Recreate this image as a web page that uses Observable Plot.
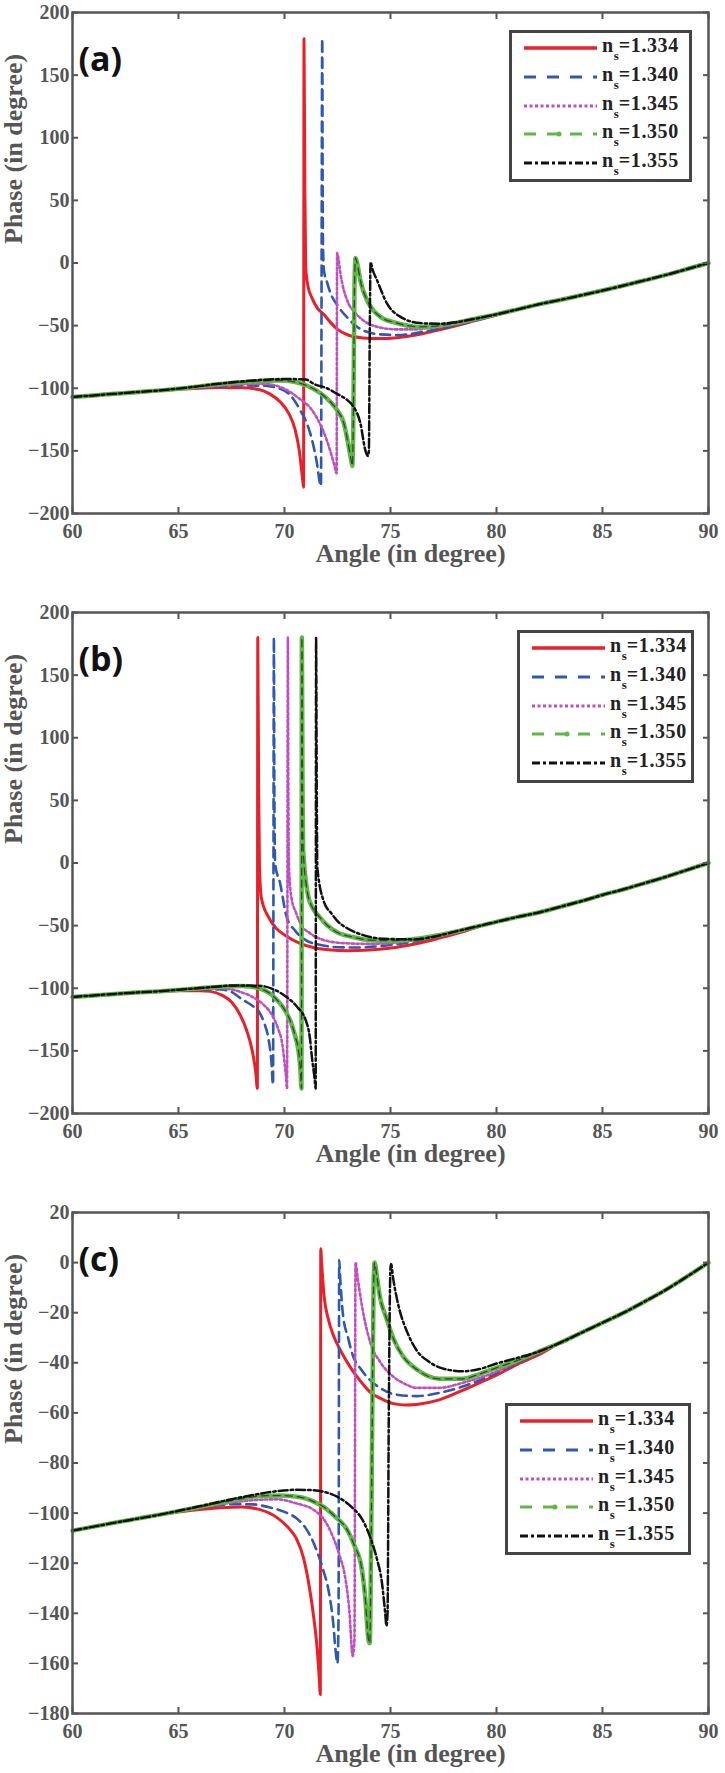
<!DOCTYPE html>
<html><head><meta charset="utf-8">
<script src="https://cdn.jsdelivr.net/npm/d3@7"></script>
<script src="https://cdn.jsdelivr.net/npm/@observablehq/plot@0.6"></script>
<style>
html,body{margin:0;padding:0;background:#fff;}
body{width:725px;height:1773px;overflow:hidden;}
.panel{position:relative;width:725px;height:600px;overflow:hidden;}
.panel svg.plot{display:block;}
.legend{position:absolute;background:#fff;border:3px solid #444;box-sizing:border-box;}
.legend svg{position:absolute;left:0;top:0;}
.legend .lbl{position:absolute;font-family:"Liberation Serif",serif;font-weight:bold;font-size:20px;line-height:20px;color:#222;white-space:nowrap;letter-spacing:0.6px;}
.legend .lbl sub{font-size:13px;line-height:0;vertical-align:-8px;margin-left:0;margin-right:0;letter-spacing:0;}
</style>
</head><body>
<div id="pa" class="panel"></div>
<div id="pb" class="panel"></div>
<div id="pc" class="panel" style="height:573px"></div>
<script>
// ---------- tick values ----------
const xTicks = [60, 65, 70, 75, 80, 85, 90];
const yTicksAB = [-200, -150, -100, -50, 0, 50, 100, 150, 200];
const yTicksC = [-180, -160, -140, -120, -100, -80, -60, -40, -20, 0, 20];
const seriesLabels = ["1.334", "1.340", "1.345", "1.350", "1.355"];
const panelTags = ["(a)", "(b)", "(c)"];
const xLabel = "Angle (in degree)";
const yLabel = "Phase (in degree)";

// ---------- panel (a): [angle, phase] ----------
const commonLeftA = [[60,-107],[61,-105.7],[62,-104.4],[63,-103.1],[64,-101.9]];
const commonRightA = [[81,-37],[82,-33],[83,-29.5],[84,-25.8],[85,-22],[86,-18],[87,-13.8],[88,-9.5],[89,-4.8],[90,0]];
const a1334 = [[65,-100.8],[66,-100],[67,-99.5],[68,-99.6],[68.8,-101],[69.3,-104.5],[69.8,-111],[70.2,-120],[70.5,-133],[70.7,-150],[70.85,-172],[70.9,-179],[70.92,179],[70.96,60],[71.0,-3],[71.1,-18],[71.3,-28],[71.55,-36],[71.85,-41],[72.2,-48],[72.5,-53],[73,-57.5],[73.7,-59.8],[74.5,-60.3],[75.3,-59.6],[76.2,-57.5],[77,-54.5],[78,-50.5],[79,-46],[80,-41.5]];
const a1340 = [[65,-100.6],[66,-99.4],[67,-98.4],[68,-97.8],[69,-98],[69.8,-100.5],[70.3,-106],[70.75,-117.8],[71.1,-130],[71.38,-147],[71.55,-162],[71.65,-174],[71.72,-178],[71.78,179],[71.8,60],[71.82,12],[71.86,-6],[72.0,-15],[72.17,-24],[72.5,-34],[72.96,-43.5],[73.35,-50],[73.73,-54],[74.53,-57],[75.3,-57.5],[76.2,-56],[77,-53.5],[78,-50],[79,-46],[80,-41.5]];
const a1345 = [[65,-100.5],[66,-99],[67,-97.8],[68,-96.8],[69,-96.5],[69.8,-99],[70.6,-107],[71.4,-120],[72.0,-141.7],[72.33,-160],[72.46,-168],[72.48,8],[72.52,6],[72.64,-8.6],[72.96,-30],[73.3,-39],[73.73,-46],[74.5,-51.5],[75.3,-53],[76.1,-53],[77,-51.5],[78,-49],[79,-45.5],[80,-41.5]];
const a1350 = [[65,-100.4],[66,-98.5],[67,-96.6],[68,-95.2],[69,-94.2],[69.8,-93.8],[70.5,-95],[71.07,-98],[71.7,-104],[72.17,-111],[72.5,-118],[72.8,-128],[73.0,-144],[73.15,-158],[73.2,-162],[73.25,-120],[73.3,-20],[73.35,4],[73.45,-2],[73.58,-14],[73.9,-30],[74.2,-38],[74.53,-43],[75.3,-48],[76.4,-51],[77.3,-50],[78,-48],[79,-44.5],[80,-41]];
const a1355 = [[65,-100.3],[66,-98.3],[67,-96.2],[68,-94.5],[69,-93.2],[70,-92.6],[71,-93],[71.38,-96.5],[72,-100],[72.48,-104.5],[73,-110],[73.27,-115],[73.58,-128],[73.82,-150],[73.93,-154],[73.98,-150],[74.02,-60],[74.06,0.6],[74.15,-5],[74.37,-14],[74.84,-32.5],[75.47,-43],[76.4,-48],[77.3,-48.5],[78,-47.5],[79,-44.5],[80,-41]];

// ---------- panel (b) ----------
const commonLeftB = [[60,-107],[61,-105.7],[62,-104.5],[63,-103.4],[64,-102.5]];
const commonRightB = [[81,-43],[82,-39.5],[83,-35],[84,-30.5],[85,-25.5],[86,-21],[87,-16],[88,-11],[89,-5.5],[90,0]];
const b1334 = [[65,-102],[66,-102],[66.5,-102.5],[67.06,-105.7],[67.5,-111],[67.93,-122],[68.2,-133],[68.48,-150],[68.65,-168],[68.72,-180],[68.74,180],[68.78,60],[68.82,-3],[68.91,-28],[69.24,-43],[69.6,-52],[70.1,-58.5],[70.7,-64],[71.4,-67.7],[72.2,-69.5],[72.96,-70],[74,-69.5],[75.14,-67.7],[76.2,-64.5],[77.3,-60],[78.4,-55],[79.5,-49],[80,-47]];
const b1340 = [[65,-101.7],[66,-101.2],[67,-101],[67.5,-103],[67.93,-108],[68.4,-113],[68.8,-119],[69.05,-128],[69.24,-140],[69.38,-158],[69.46,-177],[69.5,180],[69.52,60],[69.56,-1],[69.79,-16],[70.1,-43],[70.5,-54],[71,-61.6],[71.6,-65],[72.3,-67],[73.2,-67.5],[74.05,-67],[75,-65.5],[76,-63],[77,-59.5],[78,-55.5],[79,-51],[80,-47]];
const b1345 = [[65,-101.5],[66,-100.6],[67,-100],[67.93,-103],[68.5,-107],[69.0,-113],[69.4,-121],[69.68,-131.6],[69.9,-145],[70.0,-159],[70.08,-172],[70.12,-180],[70.16,180],[70.18,60],[70.22,-6.8],[70.33,-28],[70.55,-40],[70.77,-49],[71.2,-56],[71.86,-61.6],[72.8,-64],[74.05,-64.6],[75,-64],[76,-62],[77,-59],[78,-55],[79,-51],[80,-47]];
const b1350 = [[65,-101.3],[66,-100],[67,-98.8],[68,-98.2],[68.8,-100],[69.3,-104],[69.68,-110],[70.0,-117],[70.33,-128.5],[70.5,-138],[70.66,-150],[70.75,-165],[70.8,-180],[70.82,180],[70.85,60],[70.88,11],[71.1,-25],[71.3,-35],[71.65,-43],[72.0,-49.5],[72.5,-55.5],[73.2,-59],[74.05,-61.6],[75,-62],[76,-61],[77,-58.5],[78,-55],[79,-51],[80,-47]];
const b1355 = [[65,-101.2],[66,-99.8],[67,-98.4],[67.5,-97.8],[68.8,-98],[69.5,-101],[70.1,-107],[70.6,-115],[71,-125.5],[71.2,-140],[71.3,-156],[71.42,-172],[71.47,-180],[71.49,180],[71.52,60],[71.55,-3.8],[71.86,-31],[72.2,-40],[72.5,-46.4],[73,-52.5],[73.6,-57],[74.7,-60.5],[76.2,-61],[77,-59],[78,-55],[79,-51],[80,-47]];

// ---------- panel (c) ----------
const commonLeftC = [[60,-107],[61,-105.4],[62,-103.8],[63,-102.3],[64,-100.8]];
const commonRightC = [[83,-32],[84,-28],[85,-24],[86,-20],[87,-15.5],[88,-10.8],[89,-5.5],[90,0]];
const c1334 = [[65,-99.6],[66,-98.6],[67,-97.9],[68,-97.6],[68.8,-98.5],[69.68,-102],[70.2,-106],[70.55,-110],[70.9,-118],[71.2,-131],[71.4,-143],[71.54,-154],[71.64,-166],[71.69,-172.4],[71.7,-120],[71.71,5.5],[71.75,0],[71.87,-13.6],[72.05,-22],[72.3,-28.9],[72.7,-36],[73.17,-42.6],[73.6,-47.5],[74.05,-51.8],[74.6,-54.5],[75.14,-56.3],[75.7,-56.8],[76.23,-56.6],[77.3,-54.8],[78.4,-51],[79.2,-48],[80,-44.9],[81,-40.5],[82,-36.8]];
const c1340 = [[65,-99.4],[66,-98],[67,-96.8],[67.5,-96.4],[68.5,-96.5],[69.24,-97.6],[70,-99.5],[70.55,-102],[71,-106],[71.42,-112.8],[71.8,-122],[72.08,-131],[72.3,-144],[72.4,-154],[72.5,-160],[72.55,-140],[72.58,1],[72.62,-5],[72.76,-21],[73.0,-30],[73.2,-36.5],[73.6,-42.5],[74.05,-47],[74.6,-50.5],[75.14,-52.5],[76.23,-53.3],[77.3,-52],[78.4,-49.5],[79.2,-47],[80,-44],[81,-40],[82,-36]];
const c1345 = [[65,-99.3],[66,-97.8],[67,-96.4],[68,-95.3],[69,-94.6],[69.68,-94.5],[70.5,-96],[71.42,-99],[71.9,-103],[72.3,-109.8],[72.6,-117],[72.85,-125],[73.05,-138],[73.22,-157],[73.3,-150],[73.35,0],[73.45,-6],[73.64,-16.6],[74.05,-32],[74.5,-39.5],[75.14,-45.6],[75.7,-48.5],[76.23,-50],[77.3,-50],[78.4,-48],[79.2,-46],[80,-43.5],[81,-39.5],[82,-35.5]];
const c1350 = [[65,-99.2],[66,-97.5],[67,-95.8],[68,-94.2],[68.8,-93.2],[69.8,-93],[70.77,-93.7],[71.4,-95.5],[71.86,-97.6],[72.4,-101.5],[72.96,-106.7],[73.3,-113],[73.64,-122],[73.8,-133],[73.97,-151],[74.02,-152],[74.1,-100],[74.2,-10],[74.25,0],[74.35,-5],[74.5,-13.6],[74.8,-22],[75.14,-30.4],[75.6,-37.5],[76.23,-42.6],[77.3,-46.4],[78.4,-46.4],[79.2,-44.5],[80,-42],[81,-39],[82,-35.5]];
const c1355 = [[65,-99.1],[66,-97.3],[67,-95.4],[68,-93.6],[68.8,-92.3],[69.7,-91.2],[70.55,-90.7],[71.2,-90.8],[71.86,-91.5],[72.5,-93.5],[73.17,-97.6],[73.7,-103],[74.05,-109.8],[74.35,-118],[74.6,-128],[74.75,-140],[74.81,-145],[74.86,-140],[74.92,-60],[75.0,-2],[75.03,-0.6],[75.12,-6],[75.36,-16.6],[75.8,-28],[76.23,-35],[76.8,-39.5],[77.3,-41.8],[78.4,-43.4],[79.2,-42.5],[80,-40.3],[81,-38],[82,-35.5]];

// ---------- styles ----------
const COLORS = ["#e8202a", "#2f58b0", "#c04fc0", "#5fb845", "#111111"];
const lineStyles = [
  {stroke: COLORS[0], strokeWidth: 3},
  {stroke: COLORS[1], strokeWidth: 2.6, strokeDasharray: "10,6"},
  {stroke: COLORS[2], strokeWidth: 2.6, strokeDasharray: "2.5,2.5"},
  {stroke: COLORS[3], strokeWidth: 4.5},
  {stroke: COLORS[4], strokeWidth: 2.5, strokeDasharray: "9,3,2.5,3"}
];

function full(left, mid, right) { return [...left, ...mid, ...right]; }

function makePanel(sets, yDomain, yTicks, tag) {
  const line = (d, st) => Plot.line(d, {x: p => p[0], y: p => p[1], curve: "monotone-x", strokeLinejoin: "round", ...st});
  const axisStyle = {stroke: "#555", strokeWidth: 2, fill: "#555", label: null};
  return Plot.plot({
    width: 725, height: 600,
    marginTop: 12, marginRight: 17, marginBottom: 87, marginLeft: 72,
    style: {fontFamily: "'Liberation Serif', serif", fontWeight: "bold", fontSize: "20px", color: "#555", background: "#fff"},
    x: {domain: [60, 90]},
    y: {domain: yDomain},
    marks: [
      line(sets[0], lineStyles[0]),
      line(sets[1], lineStyles[1]),
      line(sets[2], lineStyles[2]),
      line(sets[3], lineStyles[3]),
      line(sets[3], {stroke: "#2f4a2a", strokeWidth: 1.3, strokeDasharray: "7,5"}),
      line(sets[4], lineStyles[4]),
      Plot.frame({stroke: "#555", strokeWidth: 2.5}),
      Plot.axisX({...axisStyle, ticks: xTicks, anchor: "bottom", tickSize: -6, tickPadding: 16, fontSize: 20}),
      Plot.axisX({...axisStyle, ticks: xTicks, anchor: "top", tickSize: -6, tickFormat: () => ""}),
      Plot.axisY({...axisStyle, ticks: yTicks, anchor: "left", tickSize: -6, tickPadding: 9, fontSize: 20}),
      Plot.axisY({...axisStyle, ticks: yTicks, anchor: "right", tickSize: -6, tickFormat: () => ""}),
      Plot.text([xLabel], {text: d => d, frameAnchor: "bottom", dy: 48, dx: 20, fontSize: 26, fontWeight: "bold", fill: "#555"}),
      Plot.text([yLabel], {text: d => d, frameAnchor: "left", dx: -59, dy: -19, rotate: -90, fontSize: 26, fontWeight: "bold", fill: "#555"}),
      Plot.text([tag], {text: d => d, frameAnchor: "top-left", dx: 6, dy: 34, textAnchor: "start", fontFamily: "'Open Sans', sans-serif", fontWeight: "bold", fontSize: 34, fill: "#111"})
    ]
  });
}

function addLegend(container, box) {
  const W = box.w - 6, H = box.h - 6;
  const lg = document.createElement("div");
  lg.className = "legend";
  Object.assign(lg.style, {left: box.x + "px", top: box.y + "px", width: box.w + "px", height: box.h + "px"});
  const rows = [15, 44, 73, 101, 130];
  const svg = d3.create("svg").attr("width", W).attr("height", H);
  const sw = [
    {stroke: COLORS[0], "stroke-width": 3.5},
    {stroke: COLORS[1], "stroke-width": 3, "stroke-dasharray": "12,11"},
    {stroke: COLORS[2], "stroke-width": 3, "stroke-dasharray": "3,2.5"},
    {stroke: COLORS[3], "stroke-width": 3, "stroke-dasharray": "12,11"},
    {stroke: COLORS[4], "stroke-width": 3, "stroke-dasharray": "8,3,3,3"}
  ];
  sw.forEach((s, i) => {
    const l = svg.append("line").attr("x1", 12).attr("x2", 85).attr("y1", rows[i]).attr("y2", rows[i]);
    for (const k in s) l.attr(k, s[k]);
    if (i === 3) svg.append("circle").attr("cx", 47).attr("cy", rows[i]).attr("r", 2.5).attr("fill", COLORS[3]);
  });
  lg.appendChild(svg.node());
  seriesLabels.forEach((t, i) => {
    const d = document.createElement("div");
    d.className = "lbl";
    d.style.left = "90px";
    d.style.top = (rows[i] - 13) + "px";
    d.innerHTML = "n<sub>s</sub>=" + t;
    lg.appendChild(d);
  });
  container.appendChild(lg);
}

const panels = [
  {el: "pa", sets: [full(commonLeftA, a1334, commonRightA), full(commonLeftA, a1340, commonRightA), full(commonLeftA, a1345, commonRightA), full(commonLeftA, a1350, commonRightA), full(commonLeftA, a1355, commonRightA)], dom: [-200, 200], ticks: yTicksAB, legend: {x: 509, y: 30, w: 183, h: 152}},
  {el: "pb", sets: [full(commonLeftB, b1334, commonRightB), full(commonLeftB, b1340, commonRightB), full(commonLeftB, b1345, commonRightB), full(commonLeftB, b1350, commonRightB), full(commonLeftB, b1355, commonRightB)], dom: [-200, 200], ticks: yTicksAB, legend: {x: 517, y: 30, w: 177, h: 153}},
  {el: "pc", sets: [full(commonLeftC, c1334, commonRightC), full(commonLeftC, c1340, commonRightC), full(commonLeftC, c1345, commonRightC), full(commonLeftC, c1350, commonRightC), full(commonLeftC, c1355, commonRightC)], dom: [-180, 20], ticks: yTicksC, legend: {x: 505, y: 203, w: 186, h: 152}}
];

panels.forEach((p, i) => {
  const c = document.getElementById(p.el);
  c.appendChild(makePanel(p.sets, p.dom, p.ticks, panelTags[i]));
  addLegend(c, p.legend);
});
</script>
</body></html>
